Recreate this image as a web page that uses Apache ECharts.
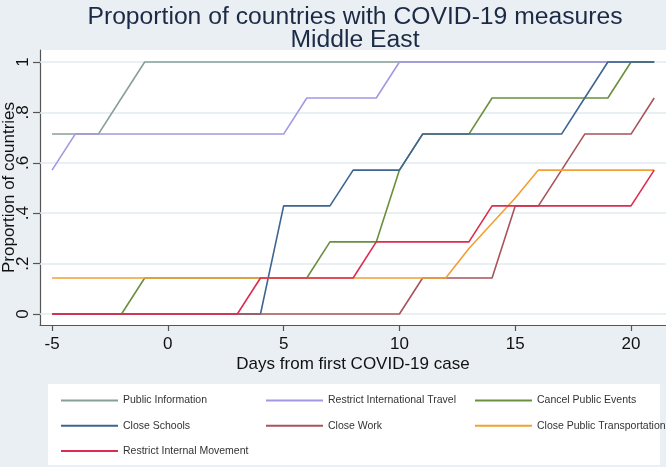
<!DOCTYPE html>
<html>
<head>
<meta charset="utf-8">
<script src="https://cdn.jsdelivr.net/npm/echarts@6/dist/echarts.min.js"></script>
<style>
html,body{margin:0;padding:0;background:#e9eff2;}
#c{width:666px;height:467px;}
</style>
</head>
<body>
<div id="c"></div>
<script>
// Days from first COVID-19 case
const days = [-5,-4,-3,-2,-1,0,1,2,3,4,5,6,7,8,9,10,11,12,13,14,15,16,17,18,19,20,21];

const publicInformation =      [0.714,0.714,0.714,0.857,1,1,1,1,1,1,1,1,1,1,1,1,1,1,1,1,1,1,1,1,1,1,1];
const restrictIntlTravel =     [0.571,0.714,0.714,0.714,0.714,0.714,0.714,0.714,0.714,0.714,0.714,0.857,0.857,0.857,0.857,1,1,1,1,1,1,1,1,1,1,1,1];
const cancelPublicEvents =     [0,0,0,0,0.143,0.143,0.143,0.143,0.143,0.143,0.143,0.143,0.286,0.286,0.286,0.571,0.714,0.714,0.714,0.857,0.857,0.857,0.857,0.857,0.857,1,1];
const closeSchools =           [0,0,0,0,0,0,0,0,0,0,0.429,0.429,0.429,0.571,0.571,0.571,0.714,0.714,0.714,0.714,0.714,0.714,0.714,0.857,1,1,1];
const closeWork =              [0,0,0,0,0,0,0,0,0,0,0,0,0,0,0,0,0.143,0.143,0.143,0.143,0.429,0.429,0.571,0.714,0.714,0.714,0.857];
const closePublicTransport =   [0.143,0.143,0.143,0.143,0.143,0.143,0.143,0.143,0.143,0.143,0.143,0.143,0.143,0.143,0.143,0.143,0.143,0.143,0.26,0.36,0.46,0.571,0.571,0.571,0.571,0.571,0.571];
const restrictInternalMove =   [0,0,0,0,0,0,0,0,0,0.143,0.143,0.143,0.143,0.143,0.286,0.286,0.286,0.286,0.286,0.429,0.429,0.429,0.429,0.429,0.429,0.429,0.571];

const seriesNames = ['Public Information','Restrict International Travel','Cancel Public Events','Close Schools','Close Work','Close Public Transportation','Restrict Internal Movement'];
const seriesValues = [publicInformation,restrictIntlTravel,cancelPublicEvents,closeSchools,closeWork,closePublicTransport,restrictInternalMove];
const seriesColors = ['#86a097','#a597e2','#6a8f3e','#3d6590','#a9535a','#f2a033','#dc2c50'];

const xTicks = [-5,0,5,10,15,20];
const yTicks = [0,0.2,0.4,0.6,0.8,1];

const FONT = 'Liberation Sans, Arial, sans-serif';
const chart = echarts.init(document.getElementById('c'), null, {renderer:'canvas'});

const series = seriesNames.map((n,i)=>({
  name:n, type:'line',
  data: days.map((d,j)=>[d, seriesValues[i][j]]),
  symbol:'none', showSymbol:false,
  lineStyle:{color:seriesColors[i], width:1.6},
  itemStyle:{color:seriesColors[i]},
  emphasis:{disabled:true}, animation:false, z:3+i
}));

// gridlines at the y tick values, drawn through the y scale
series.unshift({
  name:'_grid', type:'line', silent:true, z:1, symbol:'none',
  data: days.map(d=>[d, null]),
  lineStyle:{opacity:0},
  markLine:{silent:true, symbol:['none','none'], label:{show:false}, animation:false, z:1,
    lineStyle:{color:'#e1ebf0', width:1.5, type:'solid', opacity:1},
    emphasis:{disabled:true},
    data: yTicks.map(v=>({yAxis:v}))}
});

const legendCommon = {
  orient:'vertical', top:390, itemWidth:57, itemHeight:14, itemGap:14,
  textStyle:{fontFamily:FONT, fontSize:10.5, color:'#333'},
  itemStyle:{opacity:0},
  selectedMode:false
};

chart.setOption({
  backgroundColor:'#e9eff2',
  animation:false,
  title:{
    text:'Proportion of countries with COVID-19 measures\nMiddle East',
    left:350, top:1, textAlign:'center',
    textStyle:{fontFamily:FONT, fontSize:24.7, fontWeight:'normal', color:'#1c2a46', lineHeight:23}
  },
  graphic:[{type:'rect', shape:{x:48, y:384, width:612, height:81}, style:{fill:'#ffffff'}, z:-5}],
  legend:[
    Object.assign({}, legendCommon, {left:55, data:[seriesNames[0],seriesNames[3],seriesNames[6]]}),
    Object.assign({}, legendCommon, {left:260, data:[seriesNames[1],seriesNames[4]]}),
    Object.assign({}, legendCommon, {left:469, data:[seriesNames[2],seriesNames[5]]})
  ],
  grid:{left:40, right:0, top:50, bottom:142, show:true, backgroundColor:'#ffffff', borderWidth:0,
        containLabel:false, outerBoundsMode:'none'},
  xAxis:{type:'value', min:-5.52, max:21.51,
     name:'Days from first COVID-19 case', nameLocation:'middle', nameGap:31, nameMoveOverlap:false,
     nameTextStyle:{fontFamily:FONT, fontSize:17, color:'#111'},
     axisLine:{show:true, onZero:false, lineStyle:{color:'#555', width:1.2}},
     axisTick:{show:true, length:6, customValues:xTicks, lineStyle:{color:'#555', width:1.2}},
     axisLabel:{customValues:xTicks, margin:11, fontFamily:FONT, fontSize:17, color:'#111'},
     splitLine:{show:false}},
  yAxis:{type:'value', min:-0.0437, max:1.0476,
     name:'Proportion of countries', nameLocation:'middle', nameGap:22, nameMoveOverlap:false,
     nameTextStyle:{fontFamily:FONT, fontSize:17, color:'#111'},
     axisLine:{show:true, onZero:false, lineStyle:{color:'#555', width:1.2}},
     axisTick:{show:true, length:7, customValues:yTicks, lineStyle:{color:'#555', width:1.2}},
     axisLabel:{customValues:yTicks, rotate:90, margin:8, fontFamily:FONT, fontSize:17, color:'#111',
       formatter:v=> (v===0?'0':(v===1?'1':String(+v.toFixed(1)).replace(/^0/,'')))},
     splitLine:{show:false}},
  series: series
});
</script>
</body>
</html>
